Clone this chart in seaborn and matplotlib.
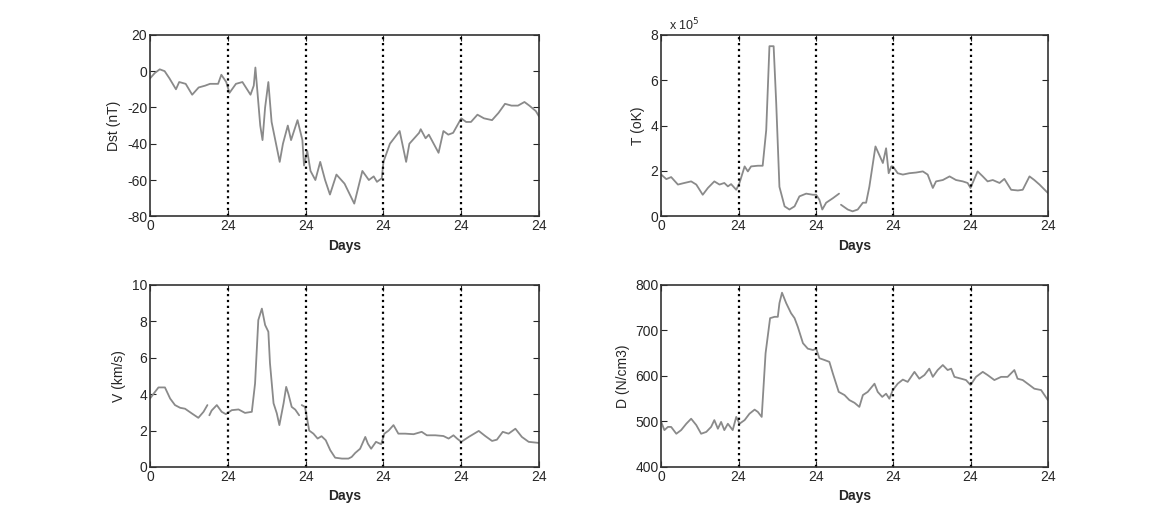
import pandas as pd
import matplotlib
matplotlib.use('Agg')
import matplotlib.pyplot as plt
import seaborn as sns
import numpy as np

# hours since start (NaN = data gap)
dst_hours = [0, 1.5, 3, 4.5, 6, 8, 9, 11, 13, 15, 17, 18.5, 21, 22, 23.5, 24.5, 26.5, 28.5,
             31, 32, 32.5, 34, 34.7, 35.5, 36.5, 37.5, 40, 41, 42.5, 43.5, 45.5, 47, 47.5,
             48.5, 49.5, 51, 52.5, 54, 55.5, 57.5, 60, 63, 65.5, 67.5, 69, 70, 71.5, 72, 74,
             77, 79, 80, 83, 83.5, 85, 86, 89, 90.5, 92, 93.5, 96, 97.5, 99, 101, 103, 105.5,
             107.5, 109.5, 111.5, 113.5, 115.5, 117, 119, 120]
dst_values = [-4, -1, 1, 0, -4, -10, -6, -7, -13, -9, -8, -7, -7, -2, -6, -12, -7, -6,
              -13, -8, 2, -30, -38, -20, -6, -28, -50, -40, -30, -38, -27, -38, -52,
              -44, -55, -60, -50, -60, -68, -57, -62, -73, -55, -60, -58, -61, -59, -50, -40,
              -33, -50, -40, -34, -32, -37, -35, -45, -33, -35, -34, -26, -28, -28, -24, -26, -27,
              -23, -18, -19, -19, -17, -19, -22, -25]

t_hours = [0, 1.6, 3.1, 5.2, 7.2, 9.3, 10.9, 12.9, 14.5, 16.5, 18.1, 19.6, 20.7, 21.7, 23.3,
           24.3, 25.9, 26.9, 27.9, 30, 31.5, 32.6, 33.6, 34.9, 35.7, 36.7, 38.3, 39.8, 41.4,
           42.9, 45, 47.1, 48.1, 49.1, 50, 51.2, 53.3, 55.2, 55.4, 55.8, 57.9, 59.4, 61, 62.6,
           63.6, 64.6, 66.5, 67.7, 68.8, 69.8, 70.6, 71.4, 71.9, 73.4, 75, 77, 79.1, 81.2, 82.7,
           84.3, 85.3, 87.4, 89.5, 91.5, 93.6, 95.1, 96, 98.2, 99.8, 101.3, 102.9, 105, 106.5,
           108.6, 110.7, 112.2, 114.3, 115.8, 117.4, 120]
t_values = [1.84, 1.64, 1.73, 1.4, 1.47, 1.54, 1.4, 0.95, 1.25, 1.54, 1.4, 1.47, 1.32, 1.42, 1.17,
            1.47, 2.2, 1.98, 2.2, 2.23, 2.23, 3.8, 7.5, 7.5, 5.0, 1.3, 0.44, 0.3, 0.44,
            0.88, 1.0, 0.95, 0.95, 0.73, 0.3, 0.6, 0.8, 1.0, np.nan, 0.51, 0.3, 0.22, 0.3, 0.6,
            0.6, 1.3, 3.08, 2.7, 2.35, 3.0, 1.9, 2.2, 2.2, 1.9, 1.84, 1.9, 1.93, 1.98, 1.84,
            1.25, 1.54, 1.6, 1.76, 1.6, 1.54, 1.47, 1.25, 1.98, 1.76, 1.54, 1.6, 1.47, 1.65,
            1.17, 1.14, 1.17, 1.76, 1.6, 1.4, 1.03]

v_hours = [0, 1, 2.6, 4.6, 6.2, 7.7, 9.3, 10.8, 12.9, 14.9, 16.5, 17.7, 18, 18.3, 19, 20.6,
           22.1, 23.4, 25.2, 27.3, 29.3, 31.4, 32.4, 33.4, 34.5, 35.5, 36.5, 37, 38.1, 39.1,
           39.9, 41.2, 42, 42.7, 43.7, 44.8, 46, 46.4, 46.8, 47.8, 49.1, 50.4, 51.7, 52.9, 54.2,
           55.6, 57.1, 59.2, 61.2, 62.2, 63.3, 64.8, 66.4, 67.2, 68.2, 69.7, 71.3, 72.3, 73.6,
           75.1, 76.6, 78.7, 81.3, 83.8, 85.4, 88, 90.5, 92.1, 93.6, 94.7, 96, 98.3, 101.4,
           103.4, 105.5, 107, 108.8, 110.6, 112.7, 114.7, 116.8, 120]
v_values = [3.76, 4.0, 4.37, 4.37, 3.76, 3.4, 3.25, 3.2, 2.94, 2.7, 3.03, 3.4, np.nan, 2.84, 3.1, 3.4,
            3.03, 2.9, 3.12, 3.16, 2.97, 3.03, 4.59, 8.07, 8.7, 7.8, 7.43, 5.7, 3.5, 2.95,
            2.3, 3.5, 4.4, 4.0, 3.3, 3.15, 2.84, np.nan, 3.4, 3.3, 2.0, 1.83, 1.56, 1.69, 1.47,
            0.92, 0.51, 0.46, 0.46, 0.55, 0.77, 1.0, 1.65, 1.28, 1.0, 1.38, 1.25, 1.83, 2.0,
            2.3, 1.83, 1.83, 1.8, 1.93, 1.74, 1.74, 1.7, 1.56, 1.74, 1.56, 1.38, 1.65, 1.98,
            1.7, 1.43, 1.5, 1.93, 1.83, 2.1, 1.65, 1.38, 1.32]

d_hours = [0, 1, 2.1, 3.1, 4.7, 6.2, 7.8, 9.3, 10.9, 12.4, 14, 15.5, 16.5, 17.6, 18.6, 19.6,
           20.7, 22.2, 23.3, 24.3, 25.9, 27.4, 29, 30, 31.2, 32.4, 33.8, 35.2, 36.2, 36.7, 37.5,
           38.8, 40.3, 41.4, 42.4, 44, 45.5, 47.1, 48.1, 49.1, 50.7, 52.2, 53.3, 55.1, 56.9,
           58.4, 60, 61.5, 62.6, 64.1, 66.2, 67.2, 68.6, 69.8, 70.8, 71.9, 73.4, 75, 76.5,
           78.6, 80.1, 81.7, 83.2, 84.3, 85.8, 87.4, 88.9, 90, 91, 93.1, 94.6, 96, 97.7, 99.8,
           101.3, 103.4, 105.5, 107.5, 109.6, 110.6, 112.2, 114.3, 115.8, 117.9, 120]
d_values = [499, 481, 488, 488, 473, 481, 495, 506, 492, 473, 477, 488, 503, 484, 499, 481,
            495, 481, 510, 495, 503, 517, 526, 521, 510, 650, 727, 730, 730, 760, 783,
            760, 738, 727, 708, 672, 660, 657, 660, 639, 635, 631, 605, 565, 558,
            547, 541, 532, 558, 565, 583, 565, 554, 561, 550, 569, 583, 592, 587,
            609, 594, 602, 616, 598, 613, 624, 613, 616, 598, 594, 591, 580, 598, 609,
            602, 591, 598, 598, 613, 594, 591, 580, 572, 569, 547]

day_ticks = [0, 24, 48, 72, 96, 120]
day_labels = ['0', '24', '24', '24', '24', '24']


def make_frame(hours, values):
    df = pd.DataFrame({'h': hours, 'v': values})
    # split the series at gaps so the line is broken there
    df['seg'] = df['v'].isna().cumsum()
    return df.dropna()


sns.set_style("ticks")
plt.rcParams['font.family'] = ['Liberation Sans', 'DejaVu Sans']
plt.rcParams['xtick.direction'] = 'in'
plt.rcParams['ytick.direction'] = 'in'
plt.rcParams['axes.unicode_minus'] = False

fig = plt.figure(figsize=(11.63, 5.2), dpi=100)

panels = [
    (dst_hours, dst_values, 'Dst (nT)', (-80, 20), np.arange(-80, 21, 20), [0.129, 0.584, 0.3345, 0.349], 1),
    (t_hours, t_values, 'T (oK)', (0, 8), np.arange(0, 9, 2), [0.5685, 0.584, 0.3325, 0.349], 1e5),
    (v_hours, v_values, 'V (km/s)', (0, 10), np.arange(0, 11, 2), [0.129, 0.102, 0.3345, 0.35], 1),
    (d_hours, d_values, 'D (N/cm3)', (400, 800), np.arange(400, 801, 100), [0.5685, 0.102, 0.3325, 0.35], 1),
]

for hours, values, ylabel, ylim, yticks, pos, scale in panels:
    ax = fig.add_axes(pos)
    df = make_frame(hours, values)
    df['v'] = df['v'] * scale
    sns.lineplot(data=df, x='h', y='v', units='seg', estimator=None,
                 color='#8a8a8a', linewidth=1.3, ax=ax)
    for x in day_ticks[1:-1]:
        ax.axvline(x, color='black', linestyle=':', linewidth=1.6)
    ax.set_xlim(0, 120)
    ax.set_ylim(ylim[0] * scale, ylim[1] * scale)
    ax.set_yticks(yticks * scale)
    ax.set_xticks(day_ticks)
    ax.set_xticklabels(day_labels)
    if scale != 1:
        ax.set_yticklabels([f'{int(t)}' for t in yticks])
        ax.text(0.02, 1.01, r'x 10$^5$', transform=ax.transAxes, fontsize=9,
                ha='left', va='bottom')
    ax.set_xlabel('Days', fontsize=10, fontweight='bold')
    ax.set_ylabel(ylabel, fontsize=10)
    ax.tick_params(labelsize=10, length=4, width=0.8, top=True, right=True, pad=2)
    for sp in ax.spines.values():
        sp.set_visible(True)
        sp.set_linewidth(1.2)
        sp.set_color('#333333')

fig.savefig('out.png', dpi=100)
